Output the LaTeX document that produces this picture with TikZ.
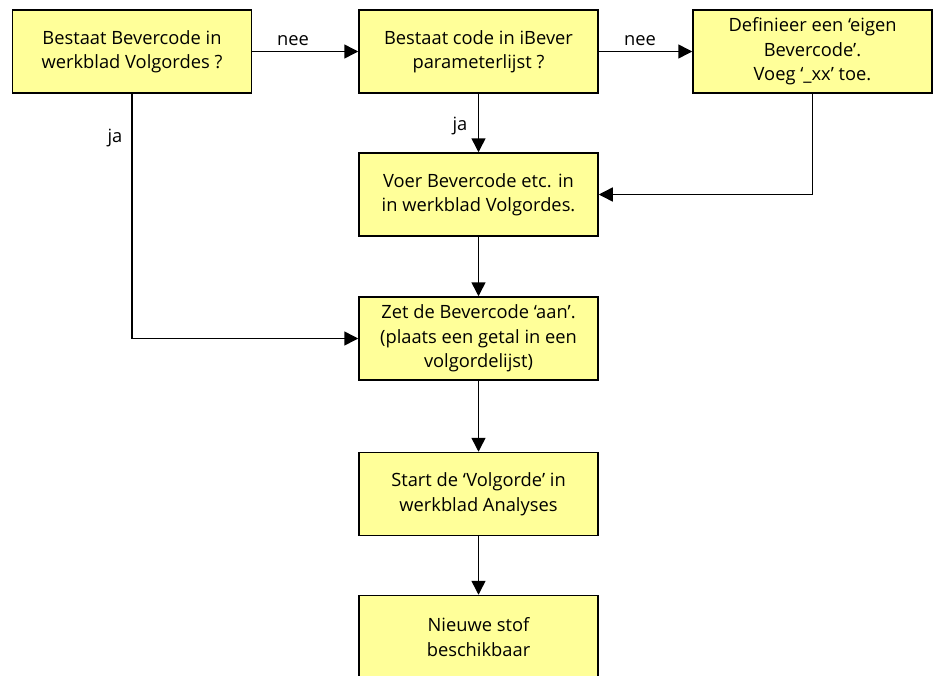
\documentclass[tikz,border=0pt]{standalone}
\usepackage{fontspec}
\setmainfont{Open Sans}
\usetikzlibrary{arrows.meta,calc}
\definecolor{boxfill}{HTML}{FFFF99}
\tikzset{
  flowbox/.style={draw=black, fill=boxfill, line width=1.5pt, minimum width=239pt, minimum height=83pt, inner sep=0pt, align=center, font=\fontsize{18.3}{24.5}\selectfont},
  conn/.style={line width=1.5pt, -{Triangle[length=14pt,width=14pt]}},
  lbl/.style={font=\fontsize{18.3}{20}\selectfont, inner sep=0pt}
}
\begin{document}
\begin{tikzpicture}[x=1pt,y=-1pt]
\useasboundingbox (0,0) rectangle (939,675);
\begin{scope}
\clip (0,0) rectangle (939,675);
\node[flowbox] (b1) at (132,51.5) {Bestaat Bevercode in\\werkblad Volgordes ?};
\node[flowbox] (b2) at (478.5,51.5) {Bestaat code in iBever\\parameterlijst ?};
\node[flowbox] (b3) at (812.5,51.5) {Definieer een ‘eigen\\Bevercode’.\\Voeg ‘\_xx’ toe.};
\node[flowbox] (b4) at (478.5,194.5) {Voer Bevercode etc. in\\in werkblad Volgordes.};
\node[flowbox] (b5) at (478.5,338.5) {Zet de Bevercode ‘aan’.\\(plaats een getal in een\\volgordelijst)};
\node[flowbox] (b6) at (478.5,494) {Start de ‘Volgorde’ in\\werkblad Analyses};
\node[flowbox] (b7) at (478.5,637) {Nieuwe stof\\beschikbaar};

\draw[conn] (b1.east) -- (b2.west);
\draw[conn] (b2.east) -- (b3.west);
\draw[conn] (b2.south) -- (b4.north);
\draw[conn] (b3.south) |- (b4.east);
\draw[conn] (b1.south) |- (b5.west);
\draw[conn] (b4.south) -- (b5.north);
\draw[conn] (b5.south) -- (b6.north);
\draw[conn] (b6.south) -- (b7.north);

\node[lbl] (l1) at (293,41) {nee};
\node[lbl] (l2) at (640,41) {nee};
\node[lbl] (l3) at (460,126) {ja};
\node[lbl] (l4) at (115,138) {ja};
\end{scope}
\end{tikzpicture}
\end{document}
